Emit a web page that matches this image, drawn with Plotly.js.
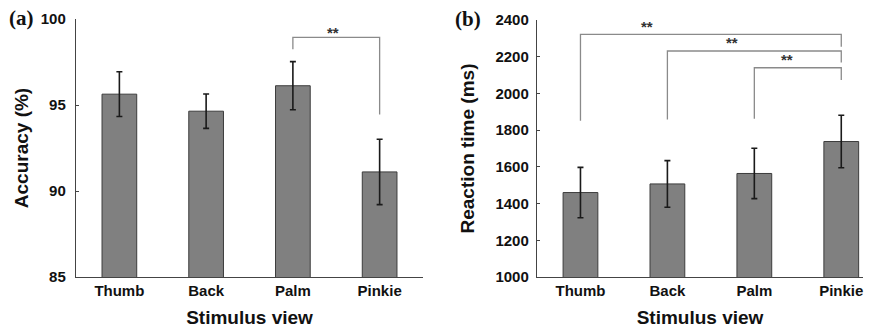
<!DOCTYPE html>
<html>
<head>
<meta charset="utf-8">
<script src="https://cdn.plot.ly/plotly-3.0.1.min.js"></script>
<style>html,body{margin:0;padding:0;background:#fff;}#chart{width:879px;height:331px;}</style>
</head>
<body>
<div id="chart"></div>
<script>
const categories = ["Thumb", "Back", "Palm", "Pinkie"];
const accuracy = [95.63, 94.64, 96.12, 91.11];
const accuracyErr = [1.3, 1.0, 1.4, 1.9];
const reactionTime = [1460, 1507, 1564, 1738];
const reactionErr = [137, 127, 137, 143];
const accuracyTicks = [85, 90, 95, 100];
const reactionTicks = [1000, 1200, 1400, 1600, 1800, 2000, 2200, 2400];
// significance brackets: [fromIndex, toIndex, topLevel, leftEnd, rightEnd, starX, starY]
const sigA = [[2, 3, 98.93, 98.24, 94.45, 2.46, 99.2]];
const sigB = [
  [0, 3, 2322, 1851, 2254, 0.77, 2362],
  [1, 3, 2231, 1858, 2169, 1.74, 2276],
  [2, 3, 2140, 1862, 2073, 2.38, 2186]
];

const boldFont = {family: "Liberation Sans, Arial, sans-serif", size: 15, color: "#111", weight: "bold"};
const titleFont = {family: "Liberation Sans, Arial, sans-serif", size: 19, color: "#111", weight: "bold"};

const barStyle = {color: "#808080", line: {color: "#3c3c3c", width: 1}};
const errStyle = {type: "data", visible: true, thickness: 1.6, width: 3, color: "#1a1a1a"};

const traces = [
  {type: "bar", x: categories, y: accuracy, xaxis: "x", yaxis: "y", marker: barStyle,
   error_y: Object.assign({array: accuracyErr}, errStyle), width: 0.4, hoverinfo: "skip"},
  {type: "bar", x: categories, y: reactionTime, xaxis: "x2", yaxis: "y2", marker: barStyle,
   error_y: Object.assign({array: reactionErr}, errStyle), width: 0.4, hoverinfo: "skip"}
];

const annotations = [];
function addBrackets(list, xa, ya) {
  list.forEach(b => {
    traces.push({type: "scatter", mode: "lines", xaxis: xa, yaxis: ya,
      x: [categories[b[0]], categories[b[0]], categories[b[1]], categories[b[1]]],
      y: [b[3], b[2], b[2], b[4]],
      line: {color: "#8a8a8a", width: 1.3}, hoverinfo: "skip", cliponaxis: false});
    annotations.push({xref: xa, yref: ya, x: b[5], y: b[6], text: "<b>**</b>", showarrow: false,
      font: {family: "Liberation Sans, Arial, sans-serif", size: 15, color: "#333"},
      xanchor: "center", yanchor: "middle"});
  });
}
addBrackets(sigA, "x", "y");
addBrackets(sigB, "x2", "y2");

annotations.push({xref: "paper", yref: "paper", x: 7/879, y: 1 - 18/331, text: "<b>(a)</b>",
  showarrow: false, xanchor: "left", yanchor: "middle",
  font: {family: "Liberation Serif, Times New Roman, serif", size: 21, color: "#111"}});
annotations.push({xref: "paper", yref: "paper", x: 453/879, y: 1 - 19/331, text: "<b>(b)</b>",
  showarrow: false, xanchor: "left", yanchor: "middle",
  font: {family: "Liberation Serif, Times New Roman, serif", size: 21, color: "#111"}});

const xCommon = {type: "category", showline: true, linecolor: "#444", linewidth: 1.2,
  ticks: "", showgrid: false, zeroline: false, tickfont: boldFont, automargin: false,
  fixedrange: true};
const yCommon = {showline: true, linecolor: "#444", linewidth: 1.2, ticks: "inside",
  ticklen: 3, tickcolor: "#444", showgrid: false, zeroline: false, tickfont: boldFont,
  automargin: false, ticklabelstandoff: 6};

const layout = {
  width: 879, height: 331,
  margin: {l: 0, r: 0, t: 0, b: 0},
  paper_bgcolor: "#fff", plot_bgcolor: "#fff",
  showlegend: false,
  xaxis: Object.assign({}, xCommon, {domain: [76/879, 423/879], range: [-0.5, 3.5], anchor: "y",
    ticktext: categories.map(c => "<b>" + c + "</b>"), tickvals: categories,
    title: {text: "<b>Stimulus view</b>", font: titleFont, standoff: 12}}),
  yaxis: Object.assign({}, yCommon, {domain: [1 - 277/331, 1 - 19/331], range: [85, 100],
    tickvals: accuracyTicks, ticktext: accuracyTicks.map(v => "<b>" + v + "</b>"), anchor: "x",
    title: {text: "<b>Accuracy (%)</b>", font: titleFont, standoff: 7}}),
  xaxis2: Object.assign({}, xCommon, {domain: [537/879, 863/879], range: [-0.5, 3.25], anchor: "y2",
    ticktext: categories.map(c => "<b>" + c + "</b>"), tickvals: categories,
    title: {text: "<b>Stimulus view</b>", font: titleFont, standoff: 12}}),
  yaxis2: Object.assign({}, yCommon, {domain: [1 - 277/331, 1 - 20/331], range: [1000, 2400],
    tickvals: reactionTicks, ticktext: reactionTicks.map(v => "<b>" + v + "</b>"), anchor: "x2",
    ticklabelstandoff: 4,
    title: {text: "<b>Reaction time (ms)</b>", font: titleFont, standoff: 15}}),
  annotations: annotations
};

Plotly.newPlot("chart", traces, layout, {displayModeBar: false, staticPlot: true});
</script>
</body>
</html>
